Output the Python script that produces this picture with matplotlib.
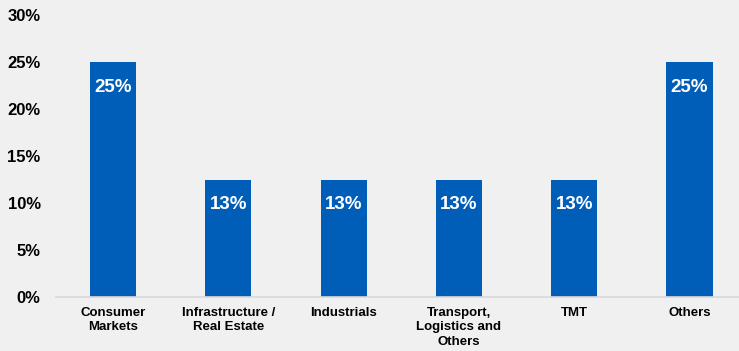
import matplotlib.pyplot as plt

categories = ['Consumer\nMarkets', 'Infrastructure /\nReal Estate', 'Industrials',
              'Transport,\nLogistics and\nOthers', 'TMT', 'Others']
shares = [25, 12.5, 12.5, 12.5, 12.5, 25]
yticks = [0, 5, 10, 15, 20, 25, 30]

plt.rcParams['font.family'] = ['Liberation Sans', 'DejaVu Sans']

bg = '#f0f0f0'
fig = plt.figure(figsize=(7.39, 3.51), dpi=100, facecolor=bg)
ax = fig.add_axes([56 / 739, 54 / 351, 683 / 739, 282 / 351], facecolor=bg)

x = range(len(categories))
bars = ax.bar(x, shares, width=0.4, color='#005eb8')

# percentage labels, rounded half-up, placed inside the top of each bar
for b, v in zip(bars, shares):
    ax.annotate(f'{int(v + 0.5)}%', (b.get_x() + b.get_width() / 2, v),
                xytext=(0, -18), textcoords='offset points',
                ha='center', va='center', color='white',
                fontsize=13.5, fontweight='bold')

ax.set_xlim(-0.494, 5.429)
ax.set_ylim(0, 30)
ax.set_yticks(yticks)
ax.set_yticklabels([f'{t}%' for t in yticks], fontsize=12, fontweight='bold')
ax.set_xticks(list(x))
ax.set_xticklabels(categories, fontsize=9.5, fontweight='bold', linespacing=1.3, va='top')
ax.tick_params(axis='both', length=0)
ax.tick_params(axis='y', pad=11)
ax.tick_params(axis='x', pad=7)

for s in ['top', 'right', 'left']:
    ax.spines[s].set_visible(False)
ax.spines['bottom'].set_color('#d9d9d9')
ax.spines['bottom'].set_linewidth(1.2)

fig.savefig('out.png', dpi=100, facecolor=bg)
